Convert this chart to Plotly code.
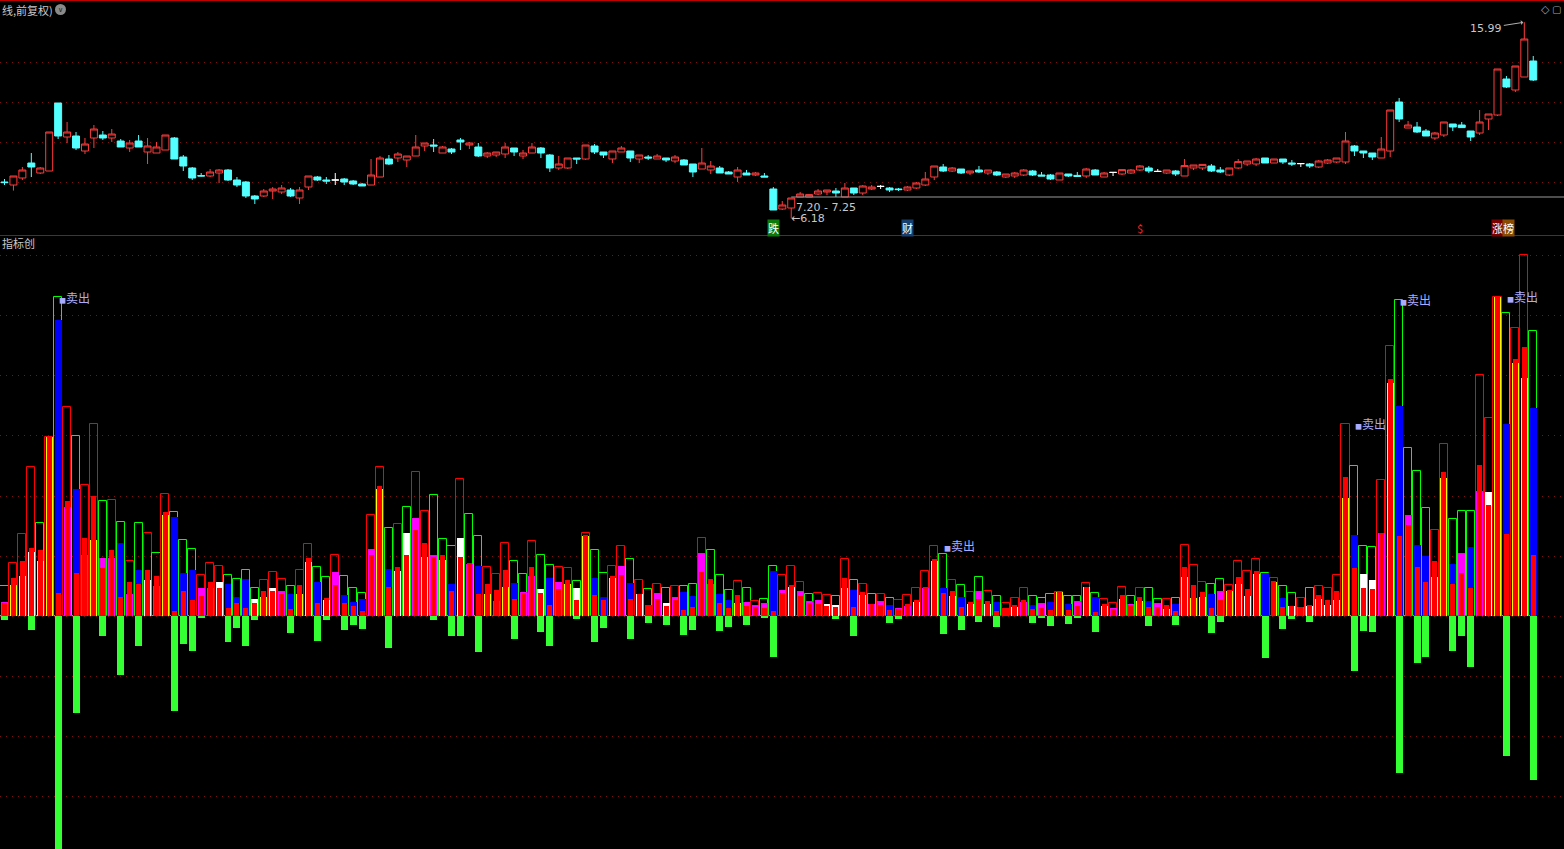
import plotly.graph_objects as go

# ---------------- price data (one candle per bar) ----------------
opens = [8.00, 7.85, 8.20, 8.95, 8.45, 8.55, 11.95, 10.25, 10.30, 9.55,
         10.20, 10.35, 10.20, 10.05, 9.70, 10.05, 9.50, 9.45, 9.60, 10.20,
         9.25, 8.70, 8.32, 8.30, 8.45, 8.60, 8.10, 8.00, 7.30, 7.30,
         7.55, 7.50, 7.60, 7.20, 7.75, 8.25, 8.10, 8.10, 8.15, 8.05,
         7.90, 7.85, 8.25, 9.15, 9.20, 9.10, 9.30, 9.80, 9.85, 9.45,
         9.65, 10.10, 9.85, 9.75, 9.30, 9.35, 9.40, 9.70, 9.30, 9.45,
         9.70, 9.35, 8.70, 8.70, 9.20, 9.15, 9.80, 9.50, 9.15, 9.50,
         9.55, 9.15, 9.25, 9.15, 9.20, 9.05, 9.10, 8.90, 8.65, 8.60,
         8.70, 8.50, 8.25, 8.45, 8.35, 8.30, 7.65, 6.65, 6.70, 7.25,
         7.25, 7.40, 7.50, 7.55, 7.25, 7.70, 7.45, 7.65, 7.78, 7.70,
         7.65, 7.60, 7.70, 7.85, 8.25, 8.75, 8.55, 8.65, 8.45, 8.60,
         8.45, 8.50, 8.25, 8.30, 8.35, 8.55, 8.35, 8.35, 8.10, 8.40,
         8.33, 8.30, 8.60, 8.25, 8.48, 8.40, 8.45, 8.60, 8.70, 8.53,
         8.45, 8.55, 8.30, 8.70, 8.70, 8.80, 8.60, 8.35, 8.70, 8.90,
         8.90, 9.20, 8.95, 9.15, 8.95, 8.92, 8.90, 8.75, 8.95, 9.00,
         9.00, 9.80, 9.55, 9.45, 9.20, 9.55, 12.00, 10.70, 10.75, 10.55,
         10.20, 10.35, 10.90, 10.85, 10.55, 10.45, 11.15, 11.35, 13.15, 12.60,
         13.25, 14.05]
highs = [8.15, 8.30, 8.75, 9.45, 8.75, 10.50, 11.95, 11.00, 10.50, 10.20,
         10.85, 10.55, 10.65, 10.15, 10.10, 10.35, 10.20, 10.00, 10.35, 10.25,
         9.35, 8.75, 8.45, 8.65, 8.65, 8.65, 8.25, 8.05, 7.35, 7.65,
         7.75, 7.85, 7.70, 7.75, 8.30, 8.30, 8.25, 8.45, 8.20, 8.10,
         7.95, 9.15, 9.30, 9.35, 9.50, 9.30, 10.35, 9.95, 10.15, 9.80,
         9.70, 10.20, 10.00, 9.95, 9.50, 9.50, 9.95, 9.70, 9.60, 9.95,
         9.75, 9.40, 9.30, 9.20, 9.20, 9.85, 9.90, 9.50, 9.55, 9.80,
         9.55, 9.35, 9.35, 9.40, 9.20, 9.35, 9.15, 8.90, 9.70, 9.05,
         8.80, 8.55, 8.75, 8.60, 8.50, 8.45, 7.75, 7.05, 7.20, 7.50,
         7.40, 7.65, 7.60, 7.70, 7.95, 7.70, 7.85, 7.85, 7.85, 7.75,
         7.70, 7.80, 8.00, 8.50, 8.80, 8.90, 8.75, 8.65, 8.55, 8.80,
         8.60, 8.55, 8.40, 8.50, 8.65, 8.60, 8.50, 8.40, 8.45, 8.40,
         8.50, 8.70, 8.65, 8.50, 8.50, 8.62, 8.65, 8.85, 8.80, 8.65,
         8.60, 8.60, 9.15, 8.85, 8.88, 8.90, 8.75, 8.70, 9.15, 9.05,
         9.20, 9.20, 9.15, 9.15, 9.10, 8.95, 8.95, 9.10, 9.15, 9.20,
         10.50, 9.85, 9.55, 9.45, 10.25, 11.60, 12.20, 11.05, 11.00, 10.65,
         10.50, 11.00, 10.90, 11.00, 10.55, 11.60, 11.40, 13.65, 13.30, 13.80,
         15.99, 14.30]
lows = [7.85, 7.57, 8.10, 8.25, 8.40, 8.55, 10.15, 9.95, 9.60, 9.40,
        9.70, 10.10, 10.00, 9.75, 9.50, 9.75, 8.90, 9.45, 9.60, 9.15,
        8.55, 8.10, 8.28, 8.25, 7.95, 8.05, 7.75, 7.20, 6.90, 7.25,
        7.15, 7.40, 7.25, 6.90, 7.60, 8.05, 7.90, 7.85, 7.85, 7.85,
        7.80, 7.85, 8.25, 8.85, 9.00, 8.75, 9.30, 9.55, 9.50, 9.45,
        9.40, 9.60, 9.65, 9.25, 9.20, 9.25, 9.20, 9.30, 9.15, 9.45,
        9.20, 8.50, 8.60, 8.65, 8.90, 9.10, 9.40, 9.20, 8.95, 9.50,
        9.00, 8.95, 9.10, 9.15, 9.00, 8.95, 8.85, 8.25, 8.65, 8.40,
        8.45, 8.40, 8.00, 8.35, 8.30, 8.25, 6.60, 6.60, 6.18, 7.25,
        7.25, 7.35, 7.35, 7.25, 7.25, 7.35, 7.35, 7.60, 7.65, 7.50,
        7.55, 7.55, 7.65, 7.80, 8.10, 8.50, 8.50, 8.40, 8.35, 8.45,
        8.35, 8.30, 8.20, 8.20, 8.30, 8.30, 8.30, 8.10, 8.10, 8.25,
        8.28, 8.20, 8.35, 8.25, 8.30, 8.35, 8.40, 8.55, 8.45, 8.50,
        8.40, 8.30, 8.30, 8.60, 8.60, 8.50, 8.45, 8.30, 8.65, 8.80,
        8.80, 8.95, 8.95, 8.90, 8.80, 8.75, 8.70, 8.70, 8.90, 8.95,
        8.90, 9.30, 9.20, 9.10, 9.20, 9.25, 11.00, 10.70, 10.45, 10.30,
        10.10, 10.25, 10.55, 10.72, 10.05, 10.35, 10.60, 11.30, 12.70, 12.50,
        13.25, 13.05]
closes = [7.97, 8.30, 8.60, 8.75, 8.70, 10.50, 10.30, 10.50, 9.70, 9.90,
          10.65, 10.20, 10.40, 9.75, 9.95, 9.75, 9.80, 9.75, 10.35, 9.15,
          8.80, 8.20, 8.30, 8.50, 8.60, 8.10, 7.85, 7.30, 7.15, 7.55,
          7.65, 7.70, 7.30, 7.60, 8.30, 8.10, 8.05, 8.10, 8.00, 7.90,
          7.80, 8.35, 9.20, 8.90, 9.40, 9.30, 9.75, 9.95, 9.80, 9.75,
          9.50, 10.00, 9.95, 9.30, 9.45, 9.50, 9.75, 9.50, 9.45, 9.75,
          9.45, 8.70, 8.90, 9.20, 9.15, 9.85, 9.50, 9.35, 9.55, 9.70,
          9.20, 9.35, 9.20, 9.30, 9.10, 9.25, 8.85, 8.50, 8.95, 8.80,
          8.45, 8.40, 8.60, 8.35, 8.45, 8.25, 6.60, 6.85, 7.20, 7.40,
          7.37, 7.55, 7.60, 7.45, 7.70, 7.45, 7.80, 7.75, 7.78, 7.60,
          7.62, 7.75, 7.95, 8.15, 8.80, 8.55, 8.70, 8.45, 8.55, 8.50,
          8.60, 8.35, 8.40, 8.45, 8.60, 8.35, 8.30, 8.15, 8.45, 8.30,
          8.28, 8.65, 8.35, 8.45, 8.48, 8.62, 8.60, 8.80, 8.55, 8.53,
          8.60, 8.40, 8.82, 8.85, 8.88, 8.55, 8.50, 8.70, 9.02, 9.05,
          9.15, 8.95, 9.15, 9.00, 8.90, 8.92, 8.80, 9.05, 9.10, 9.20,
          10.05, 9.55, 9.45, 9.25, 9.65, 11.60, 11.15, 10.85, 10.50, 10.30,
          10.45, 11.00, 10.75, 10.72, 10.25, 11.00, 11.40, 13.65, 12.75, 13.80,
          15.15, 13.10]
doji_days = [37, 98, 124, 129, 145]

# ---------------- indicator data ----------------
outline_h = [0.50, 0.88, 1.37, 2.48, 1.55, 2.99, 5.31, 3.48, 3.00, 2.18,
             3.20, 1.92, 1.93, 1.57, 0.92, 1.55, 1.38, 1.05, 2.03, 1.73,
             1.27, 1.12, 0.68, 0.88, 0.83, 0.68, 0.62, 0.77, 0.47, 0.60,
             0.73, 0.62, 0.50, 0.77, 1.20, 0.82, 0.65, 1.02, 0.67, 0.47,
             0.38, 1.68, 2.48, 1.47, 1.53, 1.82, 2.40, 1.75, 2.02, 1.28,
             1.17, 2.28, 1.70, 1.33, 0.82, 0.70, 1.22, 0.92, 0.70, 1.25,
             1.02, 0.85, 0.82, 0.80, 0.58, 1.38, 1.10, 0.72, 0.83, 1.17,
             0.95, 0.60, 0.45, 0.53, 0.47, 0.50, 0.50, 0.53, 1.30, 1.10,
             0.68, 0.43, 0.58, 0.47, 0.25, 0.28, 0.83, 0.68, 0.83, 0.57,
             0.37, 0.38, 0.35, 0.33, 0.95, 0.60, 0.53, 0.37, 0.37, 0.30,
             0.27, 0.35, 0.47, 0.75, 1.17, 1.03, 0.60, 0.52, 0.40, 0.65,
             0.42, 0.33, 0.22, 0.30, 0.47, 0.33, 0.30, 0.37, 0.40, 0.33,
             0.33, 0.55, 0.38, 0.28, 0.22, 0.48, 0.33, 0.47, 0.47, 0.28,
             0.28, 0.30, 1.18, 0.85, 0.57, 0.53, 0.62, 0.52, 0.92, 0.75,
             0.95, 0.72, 0.63, 0.50, 0.38, 0.30, 0.47, 0.50, 0.47, 0.68,
             3.20, 2.50, 1.17, 1.15, 2.27, 4.50, 5.27, 2.80, 2.42, 1.80,
             1.43, 2.87, 1.62, 1.75, 1.75, 4.02, 3.30, 5.32, 5.05, 4.80,
             6.02, 4.75]
outline_kind = ("grrrgrgrgr" "rgrgrgrgrg" "ggrrrggggr" "rrgrrggrgg" "grrgrgrrgg"
                "grggrrrggr" "ggrrgrggrr" "grgrgrggrg" "ggrgrggrrr" "grrgrgrgrg"
                "rrrrrgrgrg" "rgrrrgggrg" "grgrrrgrgg" "rgrrrggrrr" "rgrggrgrrr"
                "rgggrrgggg" "rrgggrrrgr" "rg")
fill_h = [0.24, 0.52, 0.67, 1.06, 0.92, 2.98, 4.94, 1.82, 2.12, 1.02,
          1.27, 0.97, 0.97, 1.22, 0.36, 0.77, 0.60, 0.50, 1.68, 1.65,
          0.71, 0.77, 0.47, 0.47, 0.57, 0.54, 0.31, 0.62, 0.29, 0.31,
          0.46, 0.41, 0.37, 0.36, 0.90, 0.57, 0.27, 0.73, 0.35, 0.23,
          0.28, 1.12, 2.12, 0.78, 0.75, 1.38, 1.63, 0.98, 1.02, 0.93,
          0.53, 1.30, 0.87, 0.83, 0.37, 0.25, 0.48, 0.55, 0.40, 0.67,
          0.45, 0.63, 0.57, 0.53, 0.47, 1.33, 0.63, 0.32, 0.63, 0.83,
          0.55, 0.37, 0.18, 0.38, 0.22, 0.32, 0.40, 0.33, 1.05, 0.53,
          0.37, 0.27, 0.22, 0.23, 0.18, 0.22, 0.75, 0.43, 0.48, 0.42,
          0.25, 0.27, 0.20, 0.18, 0.47, 0.43, 0.35, 0.20, 0.25, 0.18,
          0.13, 0.17, 0.23, 0.47, 0.92, 0.47, 0.33, 0.32, 0.20, 0.42,
          0.20, 0.23, 0.13, 0.15, 0.23, 0.18, 0.22, 0.23, 0.40, 0.20,
          0.25, 0.48, 0.32, 0.17, 0.13, 0.28, 0.20, 0.25, 0.25, 0.22,
          0.12, 0.20, 0.65, 0.30, 0.32, 0.37, 0.42, 0.42, 0.53, 0.33,
          0.70, 0.72, 0.57, 0.30, 0.17, 0.15, 0.17, 0.28, 0.18, 0.27,
          1.97, 1.35, 0.70, 0.60, 1.38, 3.88, 3.50, 1.68, 1.18, 1.00,
          0.65, 2.30, 0.87, 1.05, 1.15, 2.08, 2.07, 5.32, 3.20, 4.22,
          3.97, 3.47]
fill_kind = ("MYYWYYBMBM" "YMMBMBWMYB" "BBMMWBBBWY" "WMBYYBWMBB" "BMYBWWMYMY"
             "BWMBYMYBMM" "WBMYWYBBYM" "BWRMWMBBMM" "BBYMMMBMWM" "MMWWYBYMMB"
             "MMWMYBYBWM" "WBRWMBMBYB" "MYBYMYMYBM" "YBYYYBMYYW" "YBYBWMWYWY"
             "YBWWMYBMBB" "YYBMBMWYBY" "YB")
red_h = [0.22, 0.64, 0.92, 1.13, 1.10, 2.98, 0.39, 1.92, 0.71, 1.30,
         2.00, 0.80, 1.10, 0.31, 0.56, 0.54, 0.77, 0.67, 1.73, 0.09,
         0.41, 0.27, 0.34, 0.57, 0.47, 0.14, 0.22, 0.14, 0.22, 0.41,
         0.41, 0.36, 0.12, 0.51, 0.97, 0.22, 0.30, 0.52, 0.22, 0.17,
         0.08, 1.02, 2.17, 0.48, 0.82, 1.02, 1.43, 1.22, 0.98, 1.02,
         0.42, 0.98, 0.88, 0.37, 0.53, 0.43, 0.77, 0.28, 0.38, 0.82,
         0.38, 0.18, 0.45, 0.60, 0.27, 1.35, 0.35, 0.27, 0.67, 0.68,
         0.28, 0.37, 0.18, 0.28, 0.17, 0.27, 0.10, 0.15, 0.73, 0.62,
         0.22, 0.13, 0.35, 0.17, 0.15, 0.13, 0.08, 0.38, 0.52, 0.33,
         0.22, 0.20, 0.17, 0.15, 0.63, 0.15, 0.40, 0.20, 0.18, 0.10,
         0.12, 0.20, 0.27, 0.48, 0.95, 0.38, 0.42, 0.15, 0.23, 0.28,
         0.25, 0.08, 0.13, 0.18, 0.27, 0.12, 0.13, 0.10, 0.40, 0.10,
         0.17, 0.48, 0.07, 0.20, 0.12, 0.35, 0.18, 0.32, 0.15, 0.15,
         0.18, 0.08, 0.82, 0.52, 0.40, 0.13, 0.27, 0.43, 0.65, 0.45,
         0.75, 0.00, 0.58, 0.15, 0.17, 0.15, 0.18, 0.35, 0.27, 0.42,
         2.32, 0.80, 0.47, 0.45, 1.38, 3.95, 1.33, 1.52, 0.82, 0.57,
         0.92, 2.40, 0.53, 0.72, 0.47, 2.52, 1.85, 5.32, 1.37, 4.28,
         4.48, 1.02]
neg_h = [-0.07, 0, 0, -0.23, 0, 0, -4.5, 0, -1.62, 0,
         0, -0.33, 0, -0.98, 0, -0.50, 0, 0, 0, -1.58,
         -0.47, -0.58, -0.04, 0, 0, -0.43, -0.20, -0.50, -0.07, 0,
         0, 0, -0.28, 0, 0, -0.42, -0.07, 0, -0.23, -0.15,
         -0.22, 0, 0, -0.53, 0, 0, 0, 0, -0.07, 0,
         -0.33, -0.33, 0, -0.60, 0, 0, 0, -0.38, 0, 0,
         -0.27, -0.50, 0, 0, -0.05, 0, -0.43, -0.20, 0, 0,
         -0.38, 0, -0.12, 0, -0.15, 0, -0.32, -0.23, 0, 0,
         -0.25, -0.18, 0, -0.15, 0, -0.02, -0.68, 0, 0, 0,
         0, 0, 0, -0.05, 0, -0.33, 0, 0, 0, -0.12,
         -0.05, 0, 0, 0, 0, -0.30, 0, -0.23, 0, -0.10,
         0, -0.18, 0, 0, 0, -0.12, -0.03, -0.17, 0, -0.13,
         -0.02, 0, -0.27, 0, 0, 0, 0, 0, -0.17, 0,
         0, -0.15, 0, 0, 0, -0.28, -0.10, 0, 0, 0,
         0, -0.70, 0, -0.22, -0.05, 0, -0.10, 0, 0, 0,
         0, -0.92, -0.25, -0.27, 0, 0, -2.62, 0, -0.78, -0.68,
         0, 0, -0.58, -0.33, -0.85, 0, 0, 0, -2.33, 0,
         0, -2.73]
sell_days = [6, 105, 151, 156, 168]
event_days = [86, 101, 127, 167]
event_texts = ["跌", "财", "$", "涨榜"]
ref_price = 7.25
price_grid = [8, 10, 12, 14]
ind_grid = [-3, -2, -1, 0, 1, 2, 3, 4, 5, 6]

N = len(closes)
for arr in (opens, highs, lows, outline_h, fill_h, red_h, neg_h):
    assert len(arr) == N, len(arr)
assert len(outline_kind) == N and len(fill_kind) == N
idx = list(range(N))

# ---------------- styling ----------------
W, H = 1564, 849
BG = "#000000"
C_UP = "#ff3c3c"
C_DN = "#54ffff"
C_RED = "#ff0000"
C_GRN = "#00ff00"
C_NEG = "#33ff33"
GRID = "#7a1212"
FILLC = {"B": "#0000ff", "M": "#ff00ff", "W": "#ffffff", "Y": "#ffff00", "R": "#ff0000"}
CJK = "Noto Sans CJK SC"
TXT = "#c8c8c8"
LAV = "#aaaaff"


def px(x):
    return x / W


def py(y):
    return 1 - y / H


top_dom = [py(235), 1]
bot_dom = [0, py(236)]
x_range = [-0.503, 174.44]

fig = go.Figure()

is_doji = [i in doji_days for i in idx]


def keep(arr, cond):
    return [a if c else None for a, c in zip(arr, cond)]


normal = [not d for d in is_doji]
fig.add_trace(go.Candlestick(
    x=idx, open=keep(opens, normal), high=keep(highs, normal),
    low=keep(lows, normal), close=keep(closes, normal),
    increasing=dict(line=dict(color=C_UP, width=1), fillcolor=BG),
    decreasing=dict(line=dict(color=C_DN, width=1), fillcolor=C_DN),
    whiskerwidth=0, xaxis="x", yaxis="y", hoverinfo="skip", showlegend=False))
fig.add_trace(go.Candlestick(
    x=idx, open=keep(opens, is_doji), high=keep(highs, is_doji),
    low=keep(lows, is_doji), close=keep(closes, is_doji),
    increasing=dict(line=dict(color="#ffffff", width=1), fillcolor="#ffffff"),
    decreasing=dict(line=dict(color="#ffffff", width=1), fillcolor="#ffffff"),
    whiskerwidth=0, xaxis="x", yaxis="y", hoverinfo="skip", showlegend=False))

# indicator bars
fig.add_trace(go.Bar(
    x=idx, y=outline_h, width=0.9, xaxis="x2", yaxis="y2",
    marker=dict(color="rgba(0,0,0,0)",
                line=dict(color=[C_RED if k == "r" else C_GRN for k in outline_kind], width=1)),
    hoverinfo="skip", showlegend=False))
fig.add_trace(go.Bar(
    x=idx, y=fill_h, width=0.78, xaxis="x2", yaxis="y2",
    marker=dict(color=[FILLC[k] for k in fill_kind], line=dict(width=0)),
    hoverinfo="skip", showlegend=False))
fig.add_trace(go.Bar(
    x=idx, y=red_h, width=0.56, xaxis="x2", yaxis="y2",
    marker=dict(color=C_RED, line=dict(width=0)),
    hoverinfo="skip", showlegend=False))
fig.add_trace(go.Bar(
    x=idx, y=neg_h, width=0.78, xaxis="x2", yaxis="y2",
    marker=dict(color=C_NEG, line=dict(width=0)),
    hoverinfo="skip", showlegend=False))

annotations = []
# sell labels
for d in sell_days:
    yv = max(outline_h[d - 1], outline_h[d])
    annotations.append(dict(
        x=d, y=yv, xref="x2", yref="y2", xanchor="left", yanchor="middle",
        text="<span style='font-size:7px'>■</span>卖出", showarrow=False,
        font=dict(family=CJK, size=12, color=LAV), borderpad=0))

# price high / low labels
hi_i = max(idx, key=lambda i: highs[i])
lo_i = min(idx, key=lambda i: lows[i])
annotations.append(dict(
    x=hi_i, y=highs[hi_i], xref="x", yref="y", text=f"{highs[hi_i]:.2f}",
    showarrow=True, arrowhead=1, arrowsize=0.8, arrowwidth=1, arrowcolor="#b0b0b0",
    ax=-38, ay=6, standoff=1, font=dict(family="DejaVu Sans", size=11, color=TXT)))
annotations.append(dict(
    x=lo_i, y=lows[lo_i], xref="x", yref="y", xanchor="left", yanchor="middle",
    text=f"←{lows[lo_i]:.2f}", showarrow=False, xshift=-2,
    font=dict(family="DejaVu Sans", size=11, color=TXT)))
annotations.append(dict(
    x=lo_i, y=ref_price, xref="x", yref="y", xanchor="left", yanchor="top",
    text="7.20 - 7.25", showarrow=False, xshift=3, yshift=-2,
    font=dict(family="DejaVu Sans", size=11, color=TXT)))

# event badges
badge = {"跌": ("#0a7a0a", "#ffffff"), "财": ("#163f70", "#ffffff"),
         "$": ("rgba(0,0,0,0)", "#ff2020")}
for d, t in zip(event_days, event_texts):
    common = dict(y=py(228), xref="x", yref="paper", yanchor="middle",
                  showarrow=False, borderpad=0)
    if t == "涨榜":
        annotations.append(dict(x=d, text="涨", bgcolor="#7a0000",
                                font=dict(family=CJK, size=11, color="#ffffff"), **common))
        annotations.append(dict(x=d, text="榜", bgcolor="#8a4a00", xshift=11,
                                font=dict(family=CJK, size=11, color="#ffffff"), **common))
    else:
        bg, fc = badge[t]
        annotations.append(dict(x=d, text=t, bgcolor=bg,
                                font=dict(family=CJK, size=11, color=fc), **common))

# titles / icons
annotations.append(dict(x=0, y=py(10), xref="paper", yref="paper", xanchor="left",
                        yanchor="middle", text="线,前复权)", showarrow=False,
                        font=dict(family=CJK, size=11, color=TXT)))
annotations.append(dict(x=0, y=py(243), xref="paper", yref="paper", xanchor="left",
                        yanchor="middle", text="指标创", showarrow=False,
                        font=dict(family=CJK, size=11, color=TXT)))
annotations.append(dict(x=px(60.5), y=py(10), xref="paper", yref="paper",
                        xanchor="center", yanchor="middle", text="∨", showarrow=False,
                        font=dict(family="DejaVu Sans", size=7, color="#1e1e1e")))
annotations.append(dict(x=px(1545), y=py(10), xref="paper", yref="paper",
                        xanchor="center", yanchor="middle", text="◇", showarrow=False,
                        font=dict(family="DejaVu Sans", size=11, color="#a0a0a0")))
annotations.append(dict(x=px(1563), y=py(10), xref="paper", yref="paper",
                        xanchor="right", yanchor="middle", text="▢", showarrow=False,
                        font=dict(family="DejaVu Sans", size=10, color="#a0a0a0")))

shapes = [
    dict(type="line", xref="paper", yref="paper", x0=0, x1=1, y0=py(0.5), y1=py(0.5),
         line=dict(color="#c00000", width=1)),
    dict(type="line", xref="paper", yref="paper", x0=0, x1=1, y0=py(235.5), y1=py(235.5),
         line=dict(color="#c00000", width=1)),
    dict(type="line", xref="x", yref="y", x0=lo_i, x1=x_range[1], y0=ref_price, y1=ref_price,
         line=dict(color="#9a9a9a", width=1)),
    dict(type="circle", xref="paper", yref="paper", x0=px(55), x1=px(66), y0=py(15), y1=py(4),
         fillcolor="#8a8a8a", line=dict(width=0)),
]

axis_common = dict(showline=False, zeroline=False, showticklabels=False, ticks="")
fig.update_layout(
    width=W, height=H, margin=dict(l=0, r=0, t=0, b=0, pad=0),
    paper_bgcolor=BG, plot_bgcolor=BG, barmode="overlay", bargap=0,
    boxgap=0.22, boxgroupgap=0, showlegend=False, hovermode=False,
    xaxis=dict(domain=[0, 1], range=x_range, anchor="y", showgrid=False,
               rangeslider=dict(visible=False), **axis_common),
    xaxis2=dict(domain=[0, 1], range=x_range, anchor="y2", matches="x", showgrid=False,
                **axis_common),
    yaxis=dict(domain=top_dom, range=[5.35, 17.1], tickvals=price_grid, showgrid=True,
               gridcolor=GRID, griddash="1px,5px", gridwidth=1, **axis_common),
    yaxis2=dict(domain=bot_dom, range=[-3.883, 6.333], tickvals=ind_grid, showgrid=True,
                gridcolor=GRID, griddash="1px,5px", gridwidth=1, **axis_common),
    annotations=annotations, shapes=shapes,
)

fig.write_html("out.html", config={"displayModeBar": False},
               post_script="document.body.style.margin='0';document.body.style.background='#000';")
